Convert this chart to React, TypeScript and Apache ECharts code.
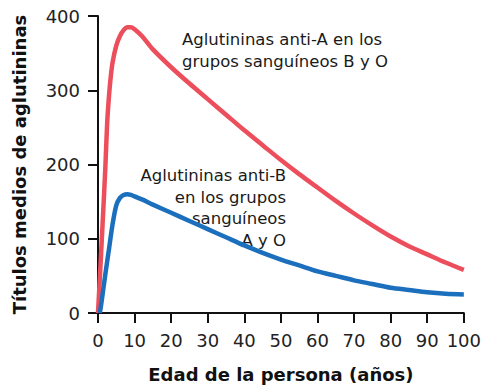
import React, { useEffect, useRef } from "react";
import * as echarts from "echarts";

const agesA = [0, 1, 2, 2.5, 3, 3.5, 4, 5, 6, 7, 8, 9, 10, 12, 15, 20, 25, 30, 35, 40, 45, 50, 55, 60, 65, 70, 75, 80, 85, 90, 95, 100];
const titersA = [0, 95, 195, 255, 292, 319, 338, 360, 373, 381, 385, 385, 382, 373, 355, 331, 309, 288, 267, 246, 226, 206, 187, 169, 151, 134, 118, 103, 90, 79, 68, 58];

const agesB = [0.5, 1, 2, 3, 4, 5, 6, 7, 8, 9, 10, 12, 15, 20, 25, 30, 35, 40, 45, 50, 55, 60, 65, 70, 75, 80, 85, 90, 95, 100];
const titersB = [0, 16, 52, 86, 120, 145, 155, 159, 160, 159, 157, 153, 146, 135, 124, 113, 102, 91, 81, 72, 64, 56, 50, 44, 39, 34, 31, 28, 26, 25];

const xTicks = [0, 10, 20, 30, 40, 50, 60, 70, 80, 90, 100];
const yTicks = [0, 100, 200, 300, 400];

const labelA = ["Aglutininas anti-A en los", "grupos sanguíneos B y O"];
const labelB = ["Aglutininas anti-B", "en los grupos", "sanguíneos", "A y O"];

const FONT = "DejaVu Sans";

export default function App() {
  const ref = useRef<HTMLDivElement>(null);
  useEffect(() => {
    if (!ref.current) return;
    const chart = echarts.init(ref.current, null, { renderer: "svg" });
    const axisCommon = {
      axisLine: { show: true, lineStyle: { color: "#111", width: 2 } },
      axisTick: { show: true, inside: false, length: 10, lineStyle: { color: "#111", width: 2 } },
      splitLine: { show: false },
      axisLabel: { color: "#222", fontSize: 18, fontFamily: FONT, margin: 18 },
      nameTextStyle: { color: "#111", fontSize: 18, fontWeight: "bold", fontFamily: FONT },
    };
    chart.setOption({
      animation: false,
      backgroundColor: "#fff",
      grid: { left: 98, right: 20, top: 16, bottom: 71, containLabel: false },
      xAxis: {
        type: "value",
        min: 0,
        max: 100,
        interval: 10,
        name: "Edad de la persona (años)",
        nameLocation: "middle",
        nameGap: 52,
        ...axisCommon,
        axisLabel: { ...axisCommon.axisLabel, formatter: (v: number) => (xTicks.includes(v) ? String(v) : "") },
      },
      yAxis: {
        type: "value",
        min: 0,
        max: 400,
        interval: 100,
        name: "Títulos medios de aglutininas",
        nameLocation: "middle",
        nameGap: 70,
        nameRotate: 90,
        ...axisCommon,
        axisLabel: { ...axisCommon.axisLabel, formatter: (v: number) => (yTicks.includes(v) ? String(v) : "") },
      },
      series: [
        {
          type: "line",
          data: agesA.map((a, i) => [a, titersA[i]]),
          showSymbol: false,
          smooth: 0.3,
          lineStyle: { color: "#ec4e5c", width: 4.5 },
          z: 3,
        },
        {
          type: "line",
          data: agesB.map((a, i) => [a, titersB[i]]),
          showSymbol: false,
          smooth: 0.3,
          lineStyle: { color: "#1b6fbc", width: 4.5 },
          z: 3,
        },
      ],
      graphic: [
        {
          type: "text",
          x: 182,
          y: 29,
          style: {
            text: labelA.join("\n"),
            fontSize: 16.5,
            fontFamily: FONT,
            fill: "#1a1a1a",
            lineHeight: 21.5,
            align: "left",
            verticalAlign: "top",
          },
        },
        {
          type: "text",
          x: 286,
          y: 165,
          style: {
            text: labelB.join("\n"),
            fontSize: 16.5,
            fontFamily: FONT,
            fill: "#1a1a1a",
            lineHeight: 21.5,
            align: "right",
            verticalAlign: "top",
          },
        },
      ],
    });
    return () => chart.dispose();
  }, []);
  return <div ref={ref} style={{ width: 484, height: 388, position: "absolute", left: 0, top: 0 }} />;
}
